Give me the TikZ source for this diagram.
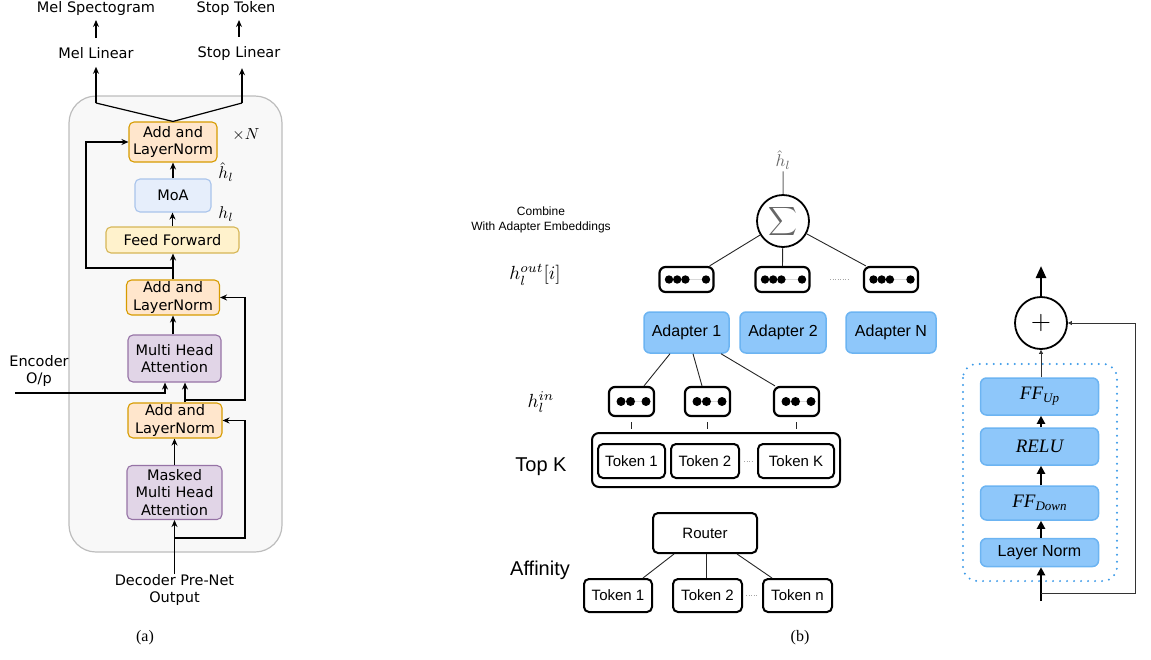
\RequirePackage{fix-cm}
\documentclass[tikz,border=0pt]{standalone}
\usepackage{fontspec}
\newfontfamily\fa{DejaVu Sans}
\newfontfamily\fb{Liberation Sans}
\newfontfamily\fs{Liberation Serif}
\usetikzlibrary{arrows.meta,calc}
\definecolor{orF}{HTML}{FFE6CC}\definecolor{orD}{HTML}{D79B00}
\definecolor{yeF}{HTML}{FFF2CC}\definecolor{yeD}{HTML}{D6B656}
\definecolor{puF}{HTML}{E1D5E7}\definecolor{puD}{HTML}{9673A6}
\definecolor{blF}{HTML}{E6EEFB}\definecolor{blD}{HTML}{A9C4EB}
\definecolor{ctF}{HTML}{F8F8F8}\definecolor{ctD}{HTML}{BDBDBD}
\definecolor{adF}{HTML}{8EC7FA}\definecolor{adD}{HTML}{6CB4F2}
\definecolor{dotB}{HTML}{3C9AE8}
\newcommand\embdots[3]{%
  \foreach \dx [count=\k] in {#3}{\fill ([xshift=\dx]#1.center) circle (#2);}}
\begin{document}
\begin{tikzpicture}[x=1pt,y=-1pt,
  abox/.style={rounded corners=5pt,line width=1.1pt,inner sep=0pt,align=center,font=\fa\fontsize{14.5}{17.5}\selectfont},
  lnbox/.style={abox,fill=orF,draw=orD},
  ffbox/.style={abox,fill=yeF,draw=yeD},
  mhbox/.style={abox,fill=puF,draw=puD},
  moabox/.style={abox,fill=blF,draw=blD},
  lab/.style={inner xsep=0pt,inner ysep=8pt,align=center,font=\fa\fontsize{14.5}{17.5}\selectfont},
  arr/.style={line width=1.2pt,-{Stealth[length=7pt,width=6pt]}},
  bbox/.style={draw,line width=2pt,rounded corners=5pt,fill=white,inner sep=0pt,font=\fb\fontsize{15}{18}\selectfont},
  embox/.style={draw,line width=2.2pt,rounded corners=6pt,fill=white,inner sep=0pt},
  adbox/.style={fill=adF,draw=adD,line width=1.5pt,rounded corners=6pt,inner sep=0pt,font=\fb\fontsize{16}{19}\selectfont},
  thinl/.style={line width=0.9pt,black!85},
  tarr/.style={line width=2.4pt,-{Triangle[length=8pt,width=8pt]}},
  sarr/.style={line width=0.9pt,black!80,-{Triangle[length=4pt,width=4pt]}},
  dotsep/.style={gray!70,line width=0.8pt,dash pattern=on 1pt off 1.5pt}
]
\useasboundingbox (0,0) rectangle (1151,659);
% ================= panel (a) =================
\draw[fill=ctF,draw=ctD,line width=1.2pt,rounded corners=27pt] (69,96) rectangle (282,552);
\node[lnbox,minimum width=88,minimum height=40] (add1) at (173,142) {Add and\\LayerNorm};
\node[moabox,minimum width=76,minimum height=33] (moa) at (173,195.5) {MoA};
\node[ffbox,minimum width=133,minimum height=26] (ff) at (172.5,240) {Feed Forward};
\node[lnbox,minimum width=93,minimum height=35] (add2) at (173,297.5) {Add and\\LayerNorm};
\node[mhbox,minimum width=93,minimum height=47] (mha) at (174.5,358.5) {Multi Head\\Attention};
\node[lnbox,minimum width=94,minimum height=35] (add3) at (175,420.5) {Add and\\LayerNorm};
\node[mhbox,minimum width=95,minimum height=54] (mmha) at (174.5,492.5) {Masked\\Multi Head\\Attention};
\node[lab] (mellin) at (96,53) {Mel Linear};
\node[lab] (stoplin) at (239,53) {Stop Linear};
\node[lab] (melspec) at (96,8) {Mel Spectogram};
\node[lab] (stoptok) at (236,8) {Stop Token};
\node[lab,inner ysep=0pt] (dec) at (174.5,590) {Decoder Pre-Net\\Output};
\node[lab,inner ysep=0pt] (enc) at (39,371) {Encoder\\O/p};
\node[scale=1.6,inner sep=0pt] (xn) at (246,135) {$\times N$};
\node[scale=1.7,inner sep=0pt] (hh1) at (226,172) {$\hat h_l$};
\node[scale=1.7,inner sep=0pt] (h1) at (226,214) {$h_l$};
\node[font=\fs\fontsize{16}{19}\selectfont] (capa) at (145,638) {(a)};
\coordinate (t1) at (96,103);
\coordinate (t2) at (242,103);
\coordinate (e0) at (15,393);
\coordinate (b1) at (245,538);
\coordinate (b2) at (245,400);
\coordinate (b3) at (86,268);
\coordinate (msb) at ([yshift=-12]melspec.center);
\draw[line width=1.2pt] (t1) -- (add1.north) -- (t2);
\draw[arr] (t1) -- (mellin.south);
\draw[arr] (t2) -- (t2 |- stoplin.south);
\draw[arr] ([yshift=1]mellin.north) -- (mellin.north |- msb);
\draw[arr] ([yshift=1]stoplin.north) -- (stoplin.north |- msb);
\draw[arr] (dec) -- (dec |- mmha.south);
\draw[arr] (dec |- b1) -- (b1) |- (add3.east);
\draw[arr] (mmha.north) -- (mmha.north |- add3.south);
\draw[arr] ([xshift=10]add3.north) -- ([xshift=10]add3.north |- mha.south);
\draw[arr] ([xshift=10]add3.north |- b2) -- (b2) |- (add2.east);
\draw[arr] (e0) -| ([xshift=-9.5]mha.south);
\draw[arr] ([xshift=-1.5]mha.north) -- ([xshift=-1.5]mha.north |- add2.south);
\draw[arr] (add2.north) -- (add2.north |- ff.south);
\draw[arr] (add2.north |- b3) -- (b3) |- (add1.west);
\draw[arr] (ff.north) -- (ff.north |- moa.south);
\draw[arr] (moa.north) -- (add1.south);
% ================= panel (b) =================
\node[circle,draw,line width=1.8pt,minimum size=52,inner sep=0pt] (sum) at (783,221) {};
\node[scale=2.0,text=black!60,inner sep=0pt] (sumsym) at (783,221) {$\displaystyle\sum$};
\node[scale=1.7,text=black!60,inner sep=1pt] (hhat) at (783,160) {$\hat h_l$};
\draw[line width=1pt,black!60] (sum) -- (hhat);
\node[font=\fb\fontsize{12}{15}\selectfont,align=center] (comb) at (541,220) {Combine\\With Adapter Embeddings};
\node[scale=1.9] (hout) at (535,275) {$h_l^{out}[i]$};
\node[scale=1.9] (hin) at (541,402) {$h_l^{in}$};
\node[font=\fb\fontsize{20}{24}\selectfont] (topk) at (541,467) {Top K};
\node[font=\fb\fontsize{20}{24}\selectfont] (aff) at (540,570) {Affinity};
% out embeddings
\node[embox,minimum width=54,minimum height=25] (o1) at (686.5,279.5) {};
\node[embox,minimum width=54,minimum height=25] (o2) at (782.5,279.5) {};
\node[embox,minimum width=54,minimum height=25] (o3) at (891,279.5) {};
\foreach \o in {o1,o2,o3}{
  \draw[gray!30,line width=0.6pt] ([xshift=-1]\o.center) -- ([xshift=19]\o.center);
  \embdots{\o}{4.2pt}{-17.5,-9.3,-1.1,19.5}}
\draw[dotsep] (830,279) -- (848,279);
\draw[thinl] (sum) -- ([xshift=-5]o1.north east);
\draw[thinl] (sum) -- (o2.north);
\draw[thinl] (sum) -- ([xshift=3]o3.north west);
% adapters
\node[adbox,minimum width=85,minimum height=41] (ad1) at (686.5,332.5) {Adapter 1};
\node[adbox,minimum width=86,minimum height=41] (ad2) at (783,332.5) {Adapter 2};
\node[adbox,minimum width=90,minimum height=41] (adn) at (891,332.5) {Adapter N};
% in embeddings
\node[embox,minimum width=45,minimum height=29] (i1) at (631.5,401.5) {};
\node[embox,minimum width=45,minimum height=29] (i2) at (707.5,401.5) {};
\node[embox,minimum width=45,minimum height=29] (i3) at (796.5,401.5) {};
\foreach \o in {i1,i2,i3}{
  \draw[gray!30,line width=0.6pt] ([xshift=-0.5]\o.center) -- ([xshift=14.5]\o.center);
  \embdots{\o}{4.5pt}{-10.5,-1,14.5}
  \draw[thinl] ([yshift=-5]\o.south) -- ([yshift=-12]\o.south);}
\draw[thinl] ([xshift=-16.5]ad1.south) -- ([xshift=12.5]i1.north);
\draw[thinl] ([xshift=6.5]ad1.south) -- ([xshift=-5.5]i2.north);
\draw[thinl] ([xshift=34.5]ad1.south) -- ([xshift=-21.5]i3.north);
% top K
\node[draw,line width=2pt,rounded corners=7pt,minimum width=248,minimum height=54,inner sep=0pt] (tk) at (716,460) {};
\node[bbox,minimum width=67,minimum height=34] (tk1) at (631.5,461) {Token 1};
\node[bbox,minimum width=68,minimum height=34] (tk2) at (705,461) {Token 2};
\node[bbox,minimum width=76,minimum height=34] (tkk) at (796,461) {Token K};
\draw[dotsep] ([xshift=4]tk2.east) -- ([xshift=-4]tkk.west);
% router
\node[bbox,minimum width=104,minimum height=40] (router) at (705,533) {Router};
\node[bbox,minimum width=68,minimum height=33] (a1) at (618,595.5) {Token 1};
\node[bbox,minimum width=69,minimum height=33] (a2) at (707.5,595.5) {Token 2};
\node[bbox,minimum width=69,minimum height=33] (an) at (797.5,595.5) {Token n};
\draw[dotsep] ([xshift=3]a2.east) -- ([xshift=-4]an.west);
\draw[thinl] ([xshift=-31]router.south) -- ([xshift=25]a1.north);
\draw[thinl] ([xshift=1]router.south) -- ([xshift=-1.5]a2.north);
\draw[thinl] ([xshift=32]router.south) -- ([xshift=-25.5]an.north);
\node[font=\fs\fontsize{16}{19}\selectfont] (capb) at (800,638) {(b)};
% ================= adapter detail =================
\draw[dotB,line width=2.2pt,line cap=round,dash pattern=on 0pt off 7pt,rounded corners=14pt] (963,364) rectangle (1117,581);
\node[circle,draw,line width=1.8pt,minimum size=52,inner sep=0pt] (plus) at (1041,323) {};
\node[scale=2.6,inner sep=0pt] (plussym) at (1041,323) {$+$};
\node[adbox,minimum width=118,minimum height=37,font=\fs\itshape\fontsize{19}{22}\selectfont] (ffu) at (1039.5,396.5) {FF\raisebox{-0.35ex}{\fontsize{13}{13}\selectfont Up}};
\node[adbox,minimum width=118,minimum height=37,font=\fs\itshape\fontsize{19}{22}\selectfont] (relu) at (1039.5,446.5) {RELU};
\node[adbox,minimum width=118,minimum height=34,font=\fs\itshape\fontsize{19}{22}\selectfont] (ffd) at (1039.5,503) {FF\raisebox{-0.35ex}{\fontsize{13}{13}\selectfont Down}};
\node[adbox,minimum width=118,minimum height=28] (lnb) at (1039.5,552.5) {Layer Norm};
\coordinate (outp) at (1041,266);
\coordinate (inp) at (1041,601);
\coordinate (br) at (1135,593);
\draw[line width=2.4pt,-{Triangle[length=12pt,width=10pt]}] (plus) -- (outp);
\draw[tarr] (inp) -- (inp |- lnb.south);
\draw[tarr] (lnb.north -| inp) -- (inp |- ffd.south);
\draw[tarr] (ffd.north -| inp) -- (inp |- relu.south);
\draw[tarr] (relu.north -| inp) -- (inp |- ffu.south);
\draw[sarr] (ffu.north -| inp) -- (plus.south);
\draw[sarr] (inp |- br) -- (br) |- (plus.east);
\end{tikzpicture}
\end{document}
